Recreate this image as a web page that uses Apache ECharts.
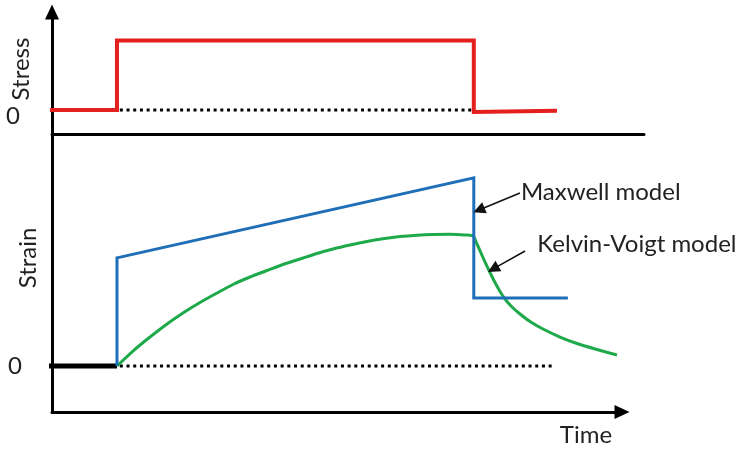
<!DOCTYPE html>
<html>
<head>
<meta charset="utf-8">
<script src="https://cdn.jsdelivr.net/npm/echarts@6/dist/echarts.min.js"></script>
<style>html,body{margin:0;padding:0;background:#fff}#c{width:736px;height:452px}</style>
</head>
<body>
<div id="c"></div>
<script>
// ---- data (time in arbitrary units, 0..100 along the strain axis) ----
var stressTime   = [-2.1, 11.4, 11.4, 74.0, 74.0, 88.6];
var stressValue  = [0, 0, 1, 1, -0.03, -0.01];
var stressZeroRefTime = [11.9, 73.7];

var strainZeroTime  = [-3.3, 11.4];
var strainZeroRefTime = [11.9, 88.2];

var maxwellTime  = [11.4, 11.4, 74.0, 74.0, 90.5];
var maxwellValue = [0, 2.35, 4.09, 1.48, 1.48];

var kelvinTime  = [11.40, 14.21, 17.19, 20.18, 22.98, 25.96, 28.95, 31.75, 34.74, 37.72, 40.53, 43.51, 46.49, 49.30, 52.28, 55.26, 58.07, 61.05, 64.04, 66.84, 69.82, 72.46, 73.86,
                   74.56, 75.26, 75.96, 76.84, 77.72, 78.60, 79.47, 80.70, 82.11, 83.86, 86.14, 89.12, 92.11, 95.61, 99.12];
var kelvinValue = [0, 0.326, 0.630, 0.913, 1.152, 1.380, 1.587, 1.772, 1.935, 2.076, 2.207, 2.326, 2.446, 2.543, 2.630, 2.707, 2.765, 2.813, 2.843, 2.859, 2.863, 2.848, 2.826,
                   2.652, 2.457, 2.261, 2.033, 1.815, 1.620, 1.457, 1.283, 1.130, 0.967, 0.804, 0.630, 0.489, 0.359, 0.239];

var maxwellArrow = [[82.1, 3.76], [74.9, 3.39]];
var kelvinArrow  = [[83.0, 2.50], [77.4, 2.11]];

var labels = { stress: 'Stress', strain: 'Strain', time: 'Time', zero: '0', maxwell: 'Maxwell model', kelvin: 'Kelvin-Voigt model' };

function zip(a, b) { return a.map(function (v, i) { return [v, b[i]]; }); }
function flat(a, v) { return a.map(function (x) { return [x, v]; }); }

var FONT = 'Lato';
var FS = 24;
var topSpan = 592, botSpan = 570;

var chart = echarts.init(document.getElementById('c'), null, { renderer: 'canvas' });
var black = '#000';
chart.setOption({
  animation: false,
  textStyle: { fontFamily: FONT },
  grid: [
    { left: 52, width: topSpan, top: 12, height: 122, outerBoundsMode: 'none', containLabel: false },
    { left: 52, width: botSpan, top: 134, height: 278, outerBoundsMode: 'none', containLabel: false }
  ],
  xAxis: [
    { gridIndex: 0, type: 'value', min: 0, max: 100 * topSpan / botSpan,
      axisLine: { show: true, onZero: false, lineStyle: { color: black, width: 3 } },
      axisTick: { show: false }, axisLabel: { show: false }, splitLine: { show: false } },
    { gridIndex: 1, type: 'value', min: 0, max: 100,
      axisLine: { show: true, onZero: false, symbol: ['none', 'triangle'], symbolSize: [14, 15], lineStyle: { color: black, width: 3 } },
      axisTick: { show: false }, axisLabel: { show: false }, splitLine: { show: false },
      name: labels.time, nameLocation: 'end', nameGap: -36, nameMoveOverlap: false,
      nameTextStyle: { fontFamily: FONT, fontSize: FS, color: '#222', align: 'center', verticalAlign: 'top', padding: [11, 0, 0, 0] } }
  ],
  yAxis: [
    { gridIndex: 0, type: 'value', min: -24 / 69.5, max: 98 / 69.5,
      axisLine: { show: true, onZero: false, symbol: ['none', 'triangle'], symbolSize: [14, 15], lineStyle: { color: black, width: 3 } },
      axisTick: { show: false }, splitLine: { show: false },
      axisLabel: { margin: 32, fontSize: FS, color: '#222',
        rich: { z: { fontSize: FS, color: '#222', padding: [12, 0, 0, 0] } },
        formatter: function (v) { return Math.abs(v) < 1e-9 ? '{z|' + labels.zero + '}' : ''; } },
      name: labels.stress, nameLocation: 'middle', nameGap: 19, nameMoveOverlap: false,
      nameTextStyle: { fontFamily: FONT, fontSize: FS, color: '#222', padding: [0, 0, 0, 8] } },
    { gridIndex: 1, type: 'value', min: -1, max: 278 / 46 - 1, interval: 1,
      axisLine: { show: true, onZero: false, lineStyle: { color: black, width: 3 } },
      axisTick: { show: false }, splitLine: { show: false },
      axisLabel: { margin: 30, fontSize: FS, color: '#222', showMaxLabel: false,
        formatter: function (v) { return Math.abs(v) < 1e-9 ? labels.zero : ''; } },
      name: labels.strain, nameLocation: 'middle', nameGap: 12, nameMoveOverlap: false,
      nameTextStyle: { fontFamily: FONT, fontSize: FS, color: '#222', padding: [0, 0, 0, 30] } }
  ],
  series: [
    { type: 'line', xAxisIndex: 0, yAxisIndex: 0, data: flat(stressZeroRefTime, 0), showSymbol: false, clip: false, silent: true,
      lineStyle: { color: black, width: 3, type: [3, 3.7] } },
    { type: 'line', xAxisIndex: 0, yAxisIndex: 0, data: zip(stressTime, stressValue), showSymbol: false, clip: false, silent: true,
      lineStyle: { color: '#E3201E', width: 4, join: 'miter' } },
    { type: 'line', xAxisIndex: 1, yAxisIndex: 1, data: flat(strainZeroRefTime, 0), showSymbol: false, clip: false, silent: true,
      lineStyle: { color: black, width: 3, type: [3, 3.7] } },
    { type: 'line', xAxisIndex: 1, yAxisIndex: 1, data: flat(strainZeroTime, 0), showSymbol: false, clip: false, silent: true,
      lineStyle: { color: black, width: 5 } },
    { type: 'line', xAxisIndex: 1, yAxisIndex: 1, data: zip(kelvinTime, kelvinValue), showSymbol: false, clip: false, silent: true, smooth: 0.3,
      lineStyle: { color: '#1EAA4A', width: 3 },
      markLine: { silent: true, symbol: ['none', 'triangle'], symbolSize: 12, animation: false,
        lineStyle: { color: '#111', width: 1.5, type: 'solid' },
        label: { show: true, position: 'start', distance: 14, align: 'left', verticalAlign: 'middle', formatter: labels.kelvin,
          fontFamily: FONT, fontSize: FS, color: '#222' },
        data: [[{ coord: kelvinArrow[0] }, { coord: kelvinArrow[1] }]] } },
    { type: 'line', xAxisIndex: 1, yAxisIndex: 1, data: zip(maxwellTime, maxwellValue), showSymbol: false, clip: false, silent: true,
      lineStyle: { color: '#1F6EB8', width: 3, join: 'miter' },
      markLine: { silent: true, symbol: ['none', 'triangle'], symbolSize: 12, animation: false,
        lineStyle: { color: '#111', width: 1.5, type: 'solid' },
        label: { show: true, position: 'start', distance: 1, align: 'left', verticalAlign: 'middle', formatter: labels.maxwell,
          fontFamily: FONT, fontSize: FS, color: '#222' },
        data: [[{ coord: maxwellArrow[0] }, { coord: maxwellArrow[1] }]] } }
  ]
});
</script>
</body>
</html>
